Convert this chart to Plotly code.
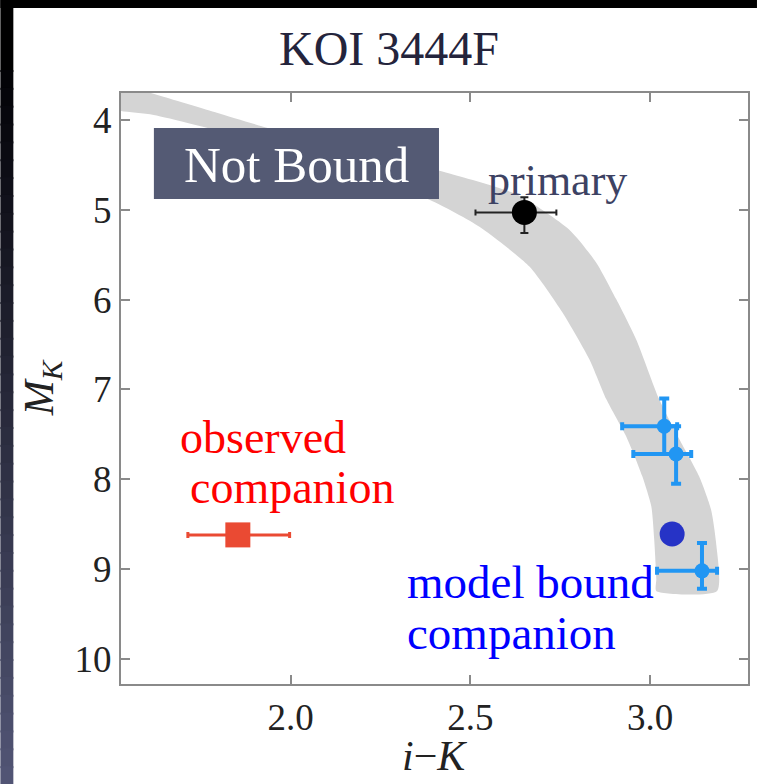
import plotly.graph_objects as go

# ---------------- data ----------------
# isochrone band (upper/right edge, then lower/left edge back)
band_upper_x = [1.469, 1.639, 1.797, 1.936, 2.164, 2.414, 2.631, 2.775, 2.850, 2.906, 2.961, 3.025, 3.081, 3.136, 3.169, 3.183, 3.186]
band_upper_y = [3.533, 3.733, 3.922, 4.089, 4.311, 4.567, 4.833, 5.222, 5.589, 6.000, 6.444, 7.111, 7.556, 7.967, 8.333, 8.700, 9.244]
band_lower_x = [3.017, 3.017, 3.011, 3.003, 2.978, 2.933, 2.878, 2.831, 2.756, 2.664, 2.525, 2.386, 1.997, 1.619, 1.528, 1.469]
band_lower_y = [9.244, 9.111, 8.667, 8.300, 7.967, 7.522, 7.111, 6.667, 6.144, 5.633, 5.189, 4.889, 4.333, 3.944, 3.900, 3.844]

# primary star
primary_x = [2.65]
primary_y = [5.03]
primary_xerr_minus = [0.136]
primary_xerr_plus = [0.089]
primary_yerr_minus = [0.17]
primary_yerr_plus = [0.23]

# observed companion
obs_x = [1.853]
obs_y = [8.62]
obs_xerr_minus = [0.139]
obs_xerr_plus = [0.144]

# model bound companion estimates (light blue with errors)
model_x = [3.039, 3.072, 3.144]
model_y = [7.41, 7.72, 9.02]
model_xerr_minus = [0.117, 0.119, 0.125]
model_xerr_plus = [0.036, 0.042, 0.042]
model_yerr_minus = [0.31, 0.31, 0.31]
model_yerr_plus = [0.31, 0.33, 0.20]

# model bound companion (dark blue)
bound_x = [3.061]
bound_y = [8.61]

x_ticks = [2.0, 2.5, 3.0]
y_ticks = [4, 5, 6, 7, 8, 9, 10]

# ---------------- layout geometry ----------------
W, H = 759, 784
L, R, T, B = 121, 750, 93, 684


def px(xp):
    return (xp - L) / (R - L)


def py(yp):
    return (B - yp) / (B - T)


SERIF = "Liberation Serif, Times New Roman, serif"

fig = go.Figure()

fig.add_trace(go.Scatter(
    x=band_upper_x + band_lower_x,
    y=band_upper_y + band_lower_y,
    mode="lines", fill="toself", fillcolor="#d4d4d4",
    line=dict(width=0, color="#d4d4d4", shape="spline", smoothing=0.6),
    hoverinfo="skip", showlegend=False,
))

fig.add_trace(go.Scatter(
    x=obs_x, y=obs_y, mode="markers",
    marker=dict(symbol="square", size=25, color="#ea4a33"),
    error_x=dict(type="data", symmetric=False, array=obs_xerr_plus, arrayminus=obs_xerr_minus,
                 color="#ea4a33", thickness=3, width=3),
    showlegend=False,
))

fig.add_trace(go.Scatter(
    x=primary_x, y=primary_y, mode="markers",
    marker=dict(symbol="circle", size=25, color="black"),
    error_x=dict(type="data", symmetric=False, array=primary_xerr_plus, arrayminus=primary_xerr_minus,
                 color="#222222", thickness=2, width=3),
    error_y=dict(type="data", symmetric=False, array=primary_yerr_plus, arrayminus=primary_yerr_minus,
                 color="#222222", thickness=2, width=4),
    showlegend=False,
))

fig.add_trace(go.Scatter(
    x=model_x, y=model_y, mode="markers",
    marker=dict(symbol="circle", size=15, color="#2196f3"),
    error_x=dict(type="data", symmetric=False, array=model_xerr_plus, arrayminus=model_xerr_minus,
                 color="#2196f3", thickness=4, width=4),
    error_y=dict(type="data", symmetric=False, array=model_yerr_plus, arrayminus=model_yerr_minus,
                 color="#2196f3", thickness=4, width=5),
    showlegend=False,
))

fig.add_trace(go.Scatter(
    x=bound_x, y=bound_y, mode="markers",
    marker=dict(symbol="circle", size=25, color="#2633c6"),
    showlegend=False,
))

shapes = []
# top black band
shapes.append(dict(type="rect", xref="paper", yref="paper", x0=px(0), x1=px(W), y0=py(8), y1=py(0),
                   fillcolor="black", line=dict(width=0), layer="below"))
# left black top part
shapes.append(dict(type="rect", xref="paper", yref="paper", x0=px(0), x1=px(13), y0=py(72), y1=py(0),
                   fillcolor="black", line=dict(width=0), layer="below"))
# left gradient strip (overlapping bands to avoid seams)
N = 40
top_y, bot_y = 70, H
c0 = (2, 2, 6)
c1 = (82, 86, 118)
for i in range(N):
    y0p = top_y + (bot_y - top_y) * i / N
    y1p = top_y + (bot_y - top_y) * (i + 1) / N + 2
    t = (i + 0.5) / N
    col = "rgb(%d,%d,%d)" % tuple(int(c0[k] + (c1[k] - c0[k]) * t) for k in range(3))
    shapes.append(dict(type="rect", xref="paper", yref="paper", x0=px(0), x1=px(13),
                       y0=py(y1p), y1=py(y0p), fillcolor=col, line=dict(width=0), layer="below"))
# "Not Bound" box
shapes.append(dict(type="rect", xref="paper", yref="paper", x0=px(154), x1=px(440), y0=py(199), y1=py(128),
                   fillcolor="#545a74", line=dict(width=0), layer="above"))

annotations = [
    dict(text="Not Bound", xref="paper", yref="paper", x=px(297), y=py(165), xanchor="center", yanchor="middle",
         showarrow=False, font=dict(family=SERIF, size=51, color="white")),
    dict(text="primary", xref="paper", yref="paper", x=px(559), y=py(180), xanchor="center", yanchor="middle",
         showarrow=False, font=dict(family=SERIF, size=44, color="#3d4263")),
    dict(text="observed", xref="paper", yref="paper", x=px(178), y=py(437), xanchor="left", yanchor="middle",
         showarrow=False, font=dict(family=SERIF, size=46, color="#ff0000")),
    dict(text="companion", xref="paper", yref="paper", x=px(188), y=py(487), xanchor="left", yanchor="middle",
         showarrow=False, font=dict(family=SERIF, size=46, color="#ff0000")),
    dict(text="model bound", xref="paper", yref="paper", x=px(406), y=py(582), xanchor="left", yanchor="middle",
         showarrow=False, font=dict(family=SERIF, size=47, color="#0000ff")),
    dict(text="companion", xref="paper", yref="paper", x=px(406), y=py(633), xanchor="left", yanchor="middle",
         showarrow=False, font=dict(family=SERIF, size=47, color="#0000ff")),
    dict(text="<i>M</i><sub><i>K</i></sub>", xref="paper", yref="paper", x=px(42), y=py(388),
         xanchor="center", yanchor="middle", textangle=-90,
         showarrow=False, font=dict(family=SERIF, size=42, color="#222222")),
    dict(text="<i>i</i>\u2212<i>K</i>", xref="paper", yref="paper", x=px(435), y=py(756),
         xanchor="center", yanchor="middle",
         showarrow=False, font=dict(family=SERIF, size=42, color="#222222")),
    dict(text="KOI 3444F", xref="paper", yref="paper", x=px(390), y=py(48),
         xanchor="center", yanchor="middle",
         showarrow=False, font=dict(family=SERIF, size=48, color="#24243c")),
]

axis_common = dict(
    showline=True, linecolor="#8a8a8a", linewidth=2, mirror="ticks",
    ticks="inside", ticklen=9, tickwidth=1.5, tickcolor="#8a8a8a",
    showgrid=False, zeroline=False,
    tickfont=dict(family=SERIF, size=37, color="#222222"),
)

fig.update_layout(
    width=W, height=H,
    margin=dict(l=L, r=W - R, t=T, b=H - B),
    paper_bgcolor="white", plot_bgcolor="white",
    xaxis=dict(range=[1.528, 3.272], tickvals=x_ticks, ticktext=["%.1f" % v for v in x_ticks], **axis_common),
    yaxis=dict(range=[10.28, 3.70], tickvals=y_ticks, ticktext=[str(v) for v in y_ticks], **axis_common),
    shapes=shapes,
    annotations=annotations,
    showlegend=False,
)

fig.write_html("out.html")
